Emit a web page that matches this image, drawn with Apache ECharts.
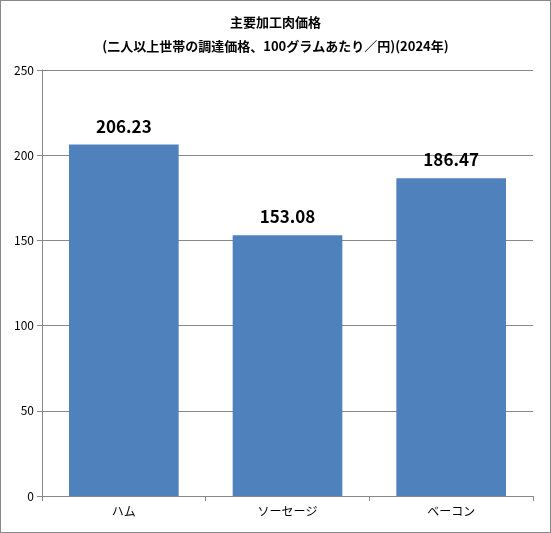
<!DOCTYPE html>
<html><head><meta charset="utf-8">
<script src="https://cdn.jsdelivr.net/npm/echarts@6/dist/echarts.min.js"></script>
<style>html,body{margin:0;padding:0;background:#fff}#c{width:551px;height:533px;box-sizing:border-box;border:1px solid #888}</style>
</head><body><div id="c"></div>
<script>
const categories = ["ハム","ソーセージ","ベーコン"];
const values = [206.23,153.08,186.47];
const yTicks = {min:0,max:250,interval:50};
const chart = echarts.init(document.getElementById('c'));
chart.setOption({
  animation:false,
  title:{text:"主要加工肉価格\n(二人以上世帯の調達価格、100グラムあたり／円)(2024年)",left:'center',top:4,
    textStyle:{fontFamily:"Noto Sans CJK JP",fontSize:13,fontWeight:'bold',color:'#000',lineHeight:24}},
  grid:{left:41,right:17,top:69,bottom:36},
  xAxis:{type:'category',data:categories,axisLine:{lineStyle:{color:'#888'}},axisTick:{show:true,lineStyle:{color:'#888'}},
    axisLabel:{color:'#000',fontFamily:"Noto Sans CJK JP",fontSize:12,margin:9}},
  yAxis:{type:'value',min:yTicks.min,max:yTicks.max,interval:yTicks.interval,
    axisLine:{show:true,lineStyle:{color:'#888'}},axisTick:{show:true,lineStyle:{color:'#888'}},
    splitLine:{lineStyle:{color:'#888'}},axisLabel:{color:'#000',fontSize:12,fontFamily:"Noto Sans CJK JP"}},
  series:[{type:'bar',data:values,barWidth:'67%',itemStyle:{color:'#4f81bd'},
    label:{show:true,position:'top',distance:10,formatter:p=>p.value.toFixed(2),fontSize:17,fontWeight:'bold',color:'#000',fontFamily:"Noto Sans CJK JP"}}]
});
</script></body></html>
